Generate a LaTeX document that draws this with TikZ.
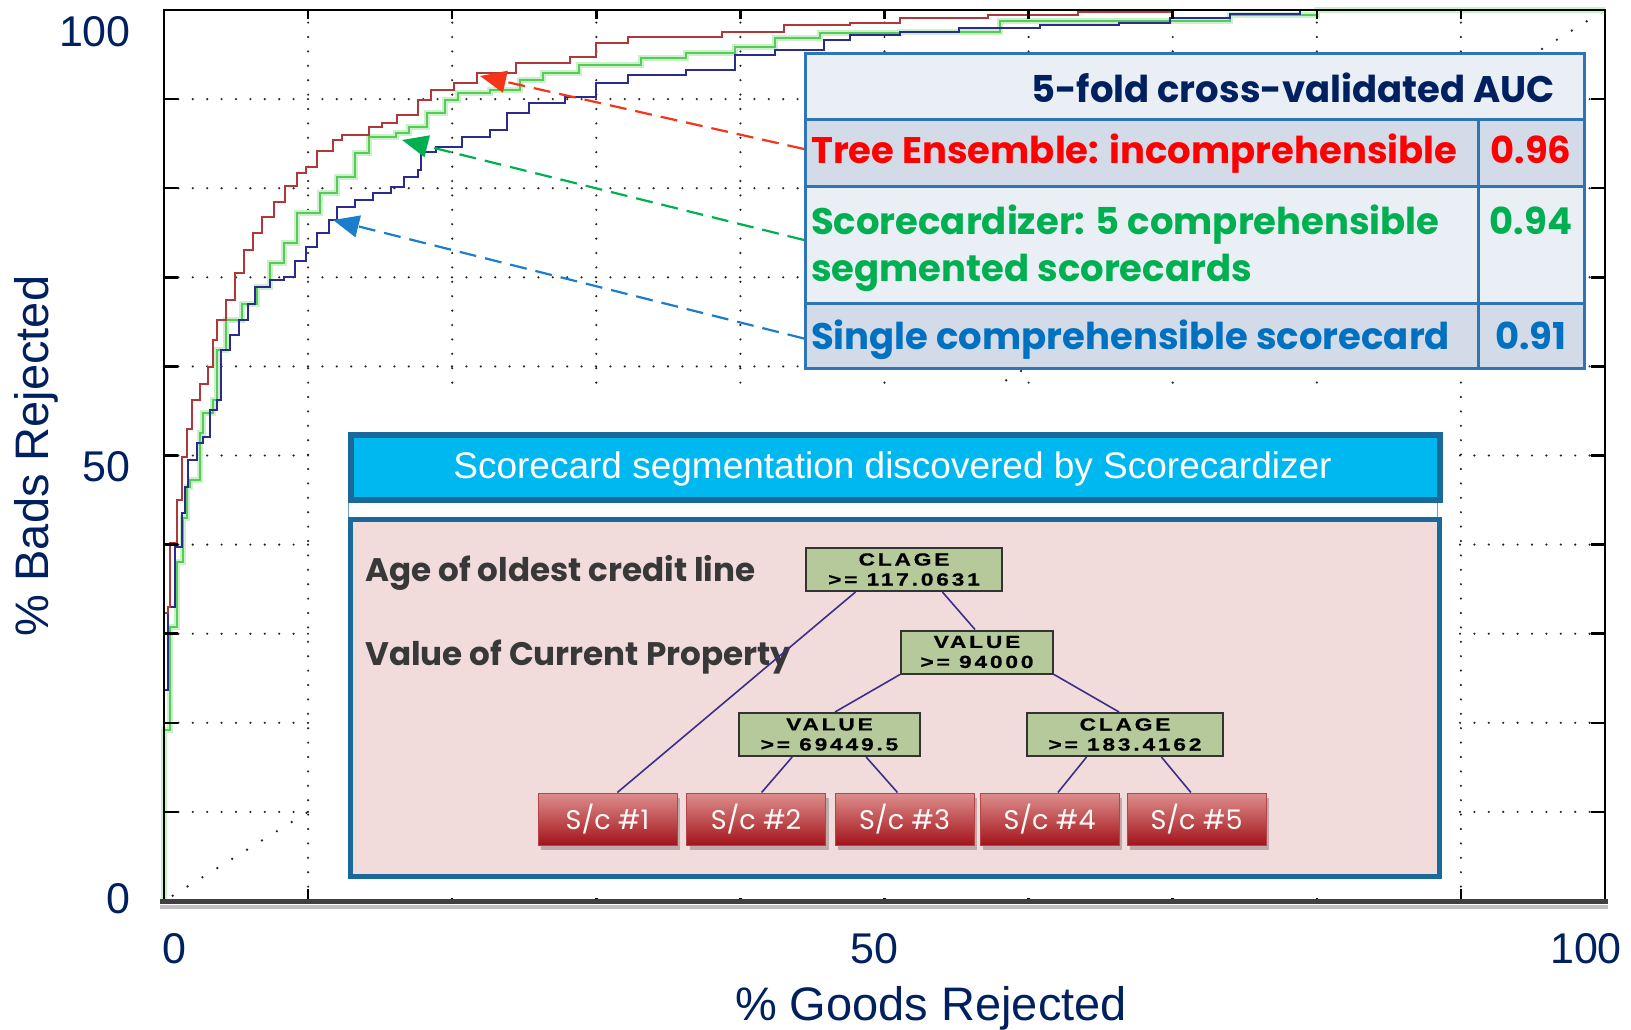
\documentclass[tikz,border=0pt]{standalone}
\usepackage{fontspec}
\setmainfont{Liberation Sans}
\newfontfamily\gothic{Poppins}
\newfontfamily\treefont[FakeStretch=1.3,LetterSpace=16,FakeBold=0.6]{Liberation Sans}
\usetikzlibrary{arrows.meta,shadows,calc,shadings}

\definecolor{navy}{HTML}{002060}
\definecolor{tblue}{HTML}{2E75B6}
\definecolor{rowdark}{HTML}{D3DBE9}
\definecolor{rowlight}{HTML}{EAEEF5}
\definecolor{cRed}{HTML}{FF0000}
\definecolor{cGreen}{HTML}{00B050}
\definecolor{cBlue}{HTML}{0070C0}
\definecolor{arRed}{HTML}{F5341A}
\definecolor{arBlue}{HTML}{1C7ECB}
\definecolor{bannerfill}{HTML}{00B8F0}
\definecolor{bandedge}{HTML}{19699A}
\definecolor{pinkbg}{HTML}{F2DCDB}
\definecolor{sage}{HTML}{B5C99A}
\definecolor{edgecol}{HTML}{3B2F8C}
\definecolor{rocred}{HTML}{B03838}
\definecolor{rocgreen}{HTML}{55CC55}
\definecolor{rocblue}{HTML}{2B2B8F}
\definecolor{labelgrey}{HTML}{383838}
\definecolor{leaftop}{HTML}{DE8E8E}
\definecolor{leafbot}{HTML}{A3141A}

\begin{document}
\begin{tikzpicture}[x=1pt,y=-1pt,
  gridline/.style={black!85, line width=2.4pt, line cap=round, dash pattern=on 0pt off 14.4pt},
  diagdots/.style={black!85, line width=2.6pt, line cap=round, dash pattern=on 0pt off 17.5pt},
  roc/.style={line width=2pt, const plot},
  ticklab/.style={font=\fontsize{43}{50}\selectfont, text=navy, inner sep=0},
  axtitle/.style={font=\fontsize{47}{54}\selectfont, text=navy, inner sep=0},
  tblcell/.style={draw=tblue, line width=3pt, inner sep=0, anchor=north west},
  tblhead/.style={font=\gothic\bfseries\fontsize{37}{44}\selectfont, text=navy, inner sep=0, anchor=base east},
  rowtxt/.style={font=\gothic\bfseries\fontsize{37}{44}\selectfont, inner sep=0, anchor=base west},
  valtxt/.style={font=\gothic\bfseries\fontsize{37}{44}\selectfont, inner sep=0, anchor=base},
  callout/.style={line width=2.2pt, dash pattern=on 17pt off 9pt, -{Triangle[length=26pt,width=22pt]}},
  bannerbox/.style={fill=bannerfill, draw=bandedge, line width=6pt, inner sep=0, anchor=north west},
  segbox/.style={fill=pinkbg, draw=bandedge, line width=5pt, inner sep=0, anchor=north west},
  sidelabel/.style={font=\gothic\bfseries\fontsize{32.6}{40}\selectfont, text=labelgrey, inner sep=0, anchor=base west},
  splitnode/.style={fill=sage, draw=black!80, line width=2pt, inner sep=0, minimum height=43pt, align=center,
    font=\treefont\bfseries\fontsize{17.5}{20}\selectfont},
  leafnode/.style={top color=leaftop, bottom color=leafbot, draw=leafbot!80, line width=1pt, inner sep=0,
    minimum width=139pt, minimum height=52pt, text=white!92!pink,
    font=\gothic\fontsize{27}{30}\selectfont,
    drop shadow={shadow xshift=3pt, shadow yshift=-5pt, fill=black, opacity=0.22}},
  link/.style={edgecol, line width=1.6pt}
]
% canvas
\fill[white] (0,0) rectangle (1631,1029);

% ---------------- ROC plot ----------------
\begin{scope}[shift={(164pt,-901pt)}, x=14.41pt, y=8.91pt]
  % dotted grid
  \foreach \k in {1,...,9} {
    \draw[gridline] (\k*10,0) -- (\k*10,100);
    \draw[gridline] (0,\k*10) -- (100,\k*10);
  }
  % chance diagonal
  \draw[diagdots] (0.6,0.6) -- (100,100);
  % ROC curves
  \draw[roc, rocgreen, preaction={draw, rocgreen!30, line width=6pt}] plot coordinates {
    (0,0) (0,19.2) (0.4,30.8) (0.9,38) (1.3,43) (1.6,46.5) (1.8,47.3) (2.5,52.5) (2.7,54.8)
    (3.4,56.2) (3.7,61.8) (4.3,65.2) (5.4,67) (6.45,68.9) (7.35,71.6) (8.3,73.8) (9.2,77.2)
    (10.8,79.5) (12,81.3) (13.25,84) (14.2,85.7) (16.1,86.2) (17,86.9) (18.25,88.4) (19.5,89.9)
    (20.4,90.7) (22.6,91) (24.7,92.1) (26.3,92.9) (28.8,93.8) (33.1,94.6) (36.2,95.2) (39.6,95.8)
    (42.4,96.9) (45.5,97.4) (51.1,97.5) (58,98.8) (70,98.8) (74,99.4) (80,100) (100,100)};
  \draw[roc, rocblue] plot coordinates {
    (0,0) (0,23.7) (0.3,33) (0.76,39.7) (1.25,43.5) (1.46,46.5) (1.67,49.5) (2.3,51.4) (2.7,52.1)
    (3.2,55.1) (3.7,56.2) (3.96,61.8) (4.6,63.5) (5.2,65.2) (5.8,67) (6.3,68.9) (7.35,69.7) (8.3,70)
    (9.1,71.8) (9.85,73.4) (10.6,75) (11.45,76.4) (12,77.9) (13.25,78.7) (14.5,79.5) (15.75,80.1)
    (16.65,81.3) (17.6,82) (17.8,84.1) (18.9,84.6) (20.7,85.7) (22.6,86.5) (23.8,88.4) (25.3,89.6)
    (27.8,90.2) (30,91.8) (32.2,92.7) (36.2,93.3) (39.6,94.9) (42.4,95.5) (45.8,96.6) (47.6,97.2)
    (51.1,97.5) (55.2,98) (60.8,98.3) (66.3,98.5) (69.8,99.1) (74,99.5) (78.8,100) (100,100)};
  \draw[roc, rocred] plot coordinates {
    (0,0) (0,32.3) (0.3,33) (0.45,40.2) (0.9,45) (1.25,49.8) (1.6,53) (1.94,56.2) (2.5,58) (3.05,59.9)
    (3.4,63) (3.7,65.2) (4.3,67.5) (4.9,70.5) (5.55,73.1) (6.2,75) (6.8,76.8) (7.6,78.5) (8.4,80.3)
    (9.2,81.7) (9.85,82.4) (10.6,84.2) (11.7,85.4) (12.35,86) (14.2,86.9) (15.1,87.3) (16.2,88.2)
    (17.6,89.9) (18.5,91) (20.1,91.8) (21.7,92.9) (24.4,94.1) (28.2,94.7) (30,96.3) (32.2,97)
    (38.7,97.5) (43,98.3) (47.6,98.5) (51.1,99.1) (57.2,99.4) (63.4,99.8) (69.8,100) (100,100)};
  % axes frame and ticks
  \foreach \k in {1,...,9} {
    \draw[black, line width=2.5pt] (0,\k*10) -- ++(14pt,0);
    \draw[black, line width=2.5pt] (100,\k*10) -- ++(-14pt,0);
    \draw[black, line width=2.5pt] (\k*10,100) -- ++(0,-9pt);
    \draw[black, line width=2.5pt] (\k*10,0) -- ++(0,12pt);
  }
  \draw[black, line width=2pt] (0,0) -- (0,100) -- (100,100) -- (100,0);
  \draw[black!25, line width=4pt] (-0.3,0) ++(0,-6pt) -- ++(1448pt,0);
  \draw[black!75, line width=5pt] (-0.3,0) -- (100.2,0);
\end{scope}

% white backing of the segmentation panel
\fill[white] (312,388) rectangle (1458,898);

% axis labels
\node[ticklab, anchor=base east] (y100) at (131,46) {100};
\node[ticklab, anchor=base east] (y50) at (131,481) {50};
\node[ticklab, anchor=base east] (y0) at (131,913) {0};
\node[ticklab, anchor=base] (x0) at (174.5,963) {0};
\node[ticklab, anchor=base] (x50) at (874,963) {50};
\node[ticklab, anchor=base] (x100) at (1586,963) {100};
\node[axtitle, anchor=base] (xtitle) at (931,1020) {\% Goods Rejected};
\node[axtitle, anchor=base, rotate=90] (ytitle) at (48,456) {\% Bads Rejected};

% ---------------- AUC table ----------------
\node[tblcell, fill=rowlight, minimum width=779pt, minimum height=66pt] (hdr) at (804,52) {};
\node[tblcell, fill=rowdark, minimum width=673pt, minimum height=67pt] (r1) at (804,118) {};
\node[tblcell, fill=rowdark, minimum width=106pt, minimum height=67pt] (v1) at (1477,118) {};
\node[tblcell, fill=rowlight, minimum width=673pt, minimum height=117pt] (r2) at (804,185) {};
\node[tblcell, fill=rowlight, minimum width=106pt, minimum height=117pt] (v2) at (1477,185) {};
\node[tblcell, fill=rowdark, minimum width=673pt, minimum height=65pt] (r3) at (804,302) {};
\node[tblcell, fill=rowdark, minimum width=106pt, minimum height=65pt] (v3) at (1477,302) {};

\node[tblhead] (hdrtxt) at (1555,102) {5-fold cross-validated AUC};
\node[rowtxt, text=cRed] (t1) at (811,163) {Tree Ensemble: incomprehensible};
\node[valtxt, text=cRed] (a1) at (1531,163) {0.96};
\node[rowtxt, text=cGreen] (t2a) at (811,234) {Scorecardizer: 5 comprehensible};
\node[rowtxt, text=cGreen] (t2b) at (811,281) {segmented scorecards};
\node[valtxt, text=cGreen] (a2) at (1531,234) {0.94};
\node[rowtxt, text=cBlue] (t3) at (811,349) {Single comprehensible scorecard};
\node[valtxt, text=cBlue] (a3) at (1531,349) {0.91};

% call-outs from the table rows to the curves
\coordinate (tipR) at (480,76);
\coordinate (tipG) at (402,140);
\coordinate (tipB) at (333,220);
\draw[callout, arRed] ($(r1.west)+(0,-4)$) -- (tipR);
\draw[callout, cGreen] ($(r2.west)+(0,-5)$) -- (tipG);
\draw[callout, arBlue] ($(r3.west)+(0,2.5)$) -- (tipB);

% ---------------- segmentation tree ----------------
\draw[tblue!70, line width=1pt] (348,432) rectangle (1437,874);
\node[bannerbox, minimum width=1089pt, minimum height=65pt] (banner) at (348,432) {};
\node[font=\fontsize{37}{44}\selectfont, text=white, inner sep=0, anchor=base] (bannertxt) at (892.5,478)
  {Scorecard segmentation discovered by Scorecardizer};
\node[segbox, minimum width=1089pt, minimum height=357pt] (seg) at (348,517) {};

\node[sidelabel] (lab1) at (365,581) {Age of oldest credit line};
\node[sidelabel] (lab2) at (365,665) {Value of Current Property};

\node[splitnode, minimum width=196pt] (n1) at (904,569.5) {CLAGE\\>= 117.0631};
\node[splitnode, minimum width=152pt] (n2) at (977,652) {VALUE\\>= 94000};
\node[splitnode, minimum width=181pt] (n3) at (829.5,734.5) {VALUE\\>= 69449.5};
\node[splitnode, minimum width=196pt] (n4) at (1125,734.5) {CLAGE\\>= 183.4162};

\node[leafnode] (l1) at (607.5,819) {S/c \#1};
\node[leafnode] (l2) at (756,819) {S/c \#2};
\node[leafnode] (l3) at (904.5,819) {S/c \#3};
\node[leafnode] (l4) at (1049.5,819) {S/c \#4};
\node[leafnode] (l5) at (1196.5,819) {S/c \#5};

\draw[link] ($(n1.south west)!0.255!(n1.south east)$) -- ($(l1.north west)!0.57!(l1.north east)$);
\draw[link] ($(n1.south west)!0.694!(n1.south east)$) -- ($(n2.north west)!0.487!(n2.north east)$);
\draw[link] (n2.south west) -- ($(n3.north west)!0.53!(n3.north east)$);
\draw[link] (n2.south east) -- ($(n4.north west)!0.47!(n4.north east)$);
\draw[link] ($(n3.south west)!0.296!(n3.south east)$) -- ($(l2.north west)!0.54!(l2.north east)$);
\draw[link] ($(n3.south west)!0.70!(n3.south east)$) -- ($(l3.north west)!0.45!(l3.north east)$);
\draw[link] ($(n4.south west)!0.306!(n4.south east)$) -- ($(l4.north west)!0.56!(l4.north east)$);
\draw[link] ($(n4.south west)!0.684!(n4.south east)$) -- ($(l5.north west)!0.46!(l5.north east)$);
\end{tikzpicture}
\end{document}
